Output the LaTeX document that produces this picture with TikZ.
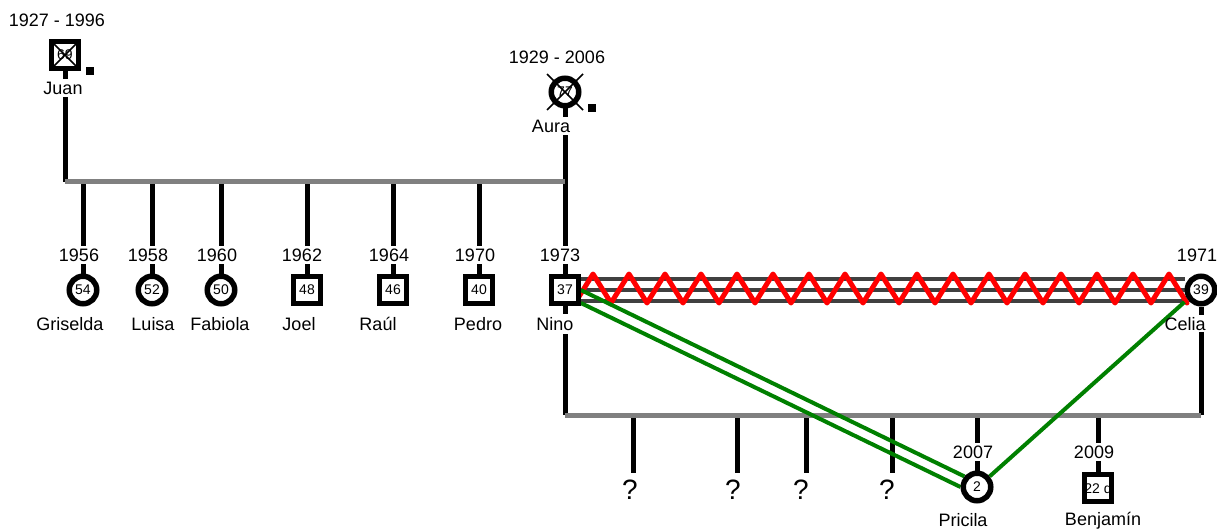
\documentclass[tikz,border=0pt]{standalone}
\usepackage{fontspec}
\setmainfont{Liberation Sans}
\usetikzlibrary{backgrounds}
\definecolor{famgray}{RGB}{128,128,128}
\definecolor{mgray}{RGB}{64,64,64}
\definecolor{kgreen}{RGB}{0,128,0}
\begin{document}
\begin{tikzpicture}[x=1pt,y=-1pt,
  male/.style={rectangle,draw=black,line width=5.3pt,fill=white,minimum size=26.4pt,inner sep=0pt,font=\fontsize{14}{14}\selectfont},
  female/.style={circle,draw=black,line width=5.5pt,fill=white,minimum size=27.5pt,inner sep=0pt,font=\fontsize{14}{14}\selectfont},
  txt/.style={font=\fontsize{18}{18}\selectfont,fill=white,inner sep=3pt},
  ntxt/.style={font=\fontsize{18}{18}\selectfont,inner sep=1pt},
  qm/.style={font=\fontsize{28}{28}\selectfont,inner sep=1pt},
  famline/.style={draw=famgray,line width=5pt},
  drop/.style={draw=black,line width=5pt},
  mline/.style={draw=mgray,line width=4.5pt},
  zz/.style={draw=red,line width=5pt,line join=round,line cap=round},
  gl/.style={draw=kgreen,line width=4pt},
  dsq/.style={fill=black,minimum size=8pt,inner sep=0pt},
  xline/.style={draw=black,line width=1.5pt}]
\useasboundingbox (0,0) rectangle (1217,529);

% ---- first generation
\node[male] (juan) at (65,55) {69};
\draw[xline] ([shift={(-11,-11)}]juan.center) -- ([shift={(11,11)}]juan.center)
             ([shift={(11,-11)}]juan.center) -- ([shift={(-11,11)}]juan.center);
\node[dsq] (juand) at (90,71) {};
\node[txt] (juany) at (57,20) {1927 - 1996};
\node[txt] (juann) at (63,88) {Juan};

\node[female] (aura) at (565,92) {77};
\draw[xline] ([shift={(-18,-18)}]aura.center) -- ([shift={(18,18)}]aura.center)
             ([shift={(18,-18)}]aura.center) -- ([shift={(-18,18)}]aura.center);
\node[dsq] (aurad) at (592,108) {};
\node[txt] (auray) at (557,57) {1929 - 2006};
\node[txt] (auran) at (551,126) {Aura};

% ---- children
\node[female] (gris) at (83,290) {54};
\node[txt] (grisy) at (79,255) {1956};
\node[txt] (grisn) at (70,324) {Griselda};
\node[female] (luisa) at (152,290) {52};
\node[txt] (luisay) at (148,255) {1958};
\node[txt] (luisan) at (153,324) {Luisa};
\node[female] (fabi) at (221,290) {50};
\node[txt] (fabiy) at (217,255) {1960};
\node[txt] (fabin) at (220,324) {Fabiola};
\node[male] (joel) at (307,290) {48};
\node[txt] (joely) at (302,255) {1962};
\node[txt] (joeln) at (299,324) {Joel};
\node[male] (raul) at (393,290) {46};
\node[txt] (rauly) at (389,255) {1964};
\node[txt] (rauln) at (378,324) {Raúl};
\node[male] (pedro) at (479,290) {40};
\node[txt] (pedroy) at (475,255) {1970};
\node[txt] (pedron) at (478,324) {Pedro};
\node[male] (nino) at (565,290) {37};
\node[txt] (ninoy) at (560,255) {1973};
\node[txt] (ninon) at (555,324) {Nino};
\node[female] (celia) at (1201,290) {39};
\node[txt] (celiay) at (1197,255) {1971};
\node[ntxt] (celian) at (1185,324) {Celia};

% ---- grandchildren
\node[qm] (q1) at (630,490) {?};
\node[qm] (q2) at (733,490) {?};
\node[qm] (q3) at (801,490) {?};
\node[qm] (q4) at (887,490) {?};
\node[female] (pric) at (977,487) {2};
\node[txt] (pricy) at (973,452) {2007};
\node[ntxt] (pricn) at (963,520) {Pricila};
\node[male] (benj) at (1098,488) {22 d};
\node[txt] (benjy) at (1094,452) {2009};
\node[ntxt] (benjn) at (1103,521) {Benjamín};

\coordinate (f1l) at (65,182);
\coordinate (f1r) at (565,182);
\coordinate (f2l) at (565,415);
\coordinate (f2r) at (1201,415);
\coordinate (q1t) at (633,473);
\coordinate (q2t) at (737,473);
\coordinate (q3t) at (806,473);
\coordinate (q4t) at (892,473);

\begin{scope}[on background layer]
  % drops
  \draw[drop] (juan.south) -- (f1l);
  \draw[drop] (aura.south) -- (nino.north);
  \foreach \c in {gris,luisa,fabi,joel,raul,pedro}{
    \draw[drop] (\c.north |- f1l) -- (\c.north);
  }
  \draw[drop] (nino.south) -- (f2l);
  \draw[drop] (celia.south) -- ++(0,8);
  \draw[drop] (celian.south -| celia.south) -- (f2r);
  \foreach \q in {q1t,q2t,q3t,q4t}{
    \draw[drop] (\q |- f2l) -- (\q);
  }
  \draw[drop] (pric.north |- f2l) -- (pric.north);
  \draw[drop] (benj.north |- f2l) -- (benj.north);
  % family lines
  \draw[famline] (f1l) -- (f1r);
  \draw[famline] (f2l) -- (f2r);
  % marriage
  \draw[mline] ([yshift=11pt]nino.east) -- ([yshift=11pt]celia.west);
  \draw[mline] (nino.east) -- (celia.west);
  \draw[mline] ([yshift=-11pt]nino.east) -- ([yshift=-11pt]celia.west);
  \draw[zz] (575,303) \foreach \k in {0,...,16}{ -- ({593+36*\k},274) -- ({611+36*\k},303)};
  % green links
  \draw[gl] (nino.east) -- (pric.140);
  \draw[gl] ([yshift=-13pt]nino.east) -- (pric.west);
  \draw[gl] ([yshift=-12pt]celia.west) -- (pric.40);
\end{scope}
\end{tikzpicture}
\end{document}
